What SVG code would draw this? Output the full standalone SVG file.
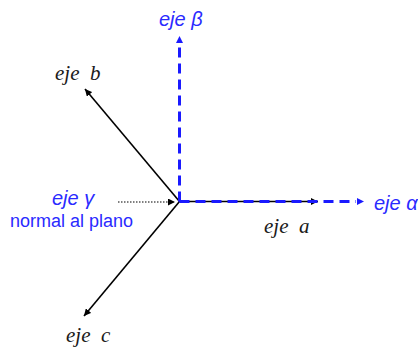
<svg xmlns="http://www.w3.org/2000/svg" width="418" height="347" viewBox="0 0 418 347">
<defs>
<marker id="ak" viewBox="0 0 10 10" refX="10" refY="5" markerWidth="7" markerHeight="7" orient="auto" markerUnits="userSpaceOnUse">
<path d="M0,0 L10,5 L0,10 Z" fill="#000"/>
</marker>
<marker id="ab" viewBox="0 0 10 10" refX="10" refY="5" markerWidth="7" markerHeight="7" orient="auto" markerUnits="userSpaceOnUse">
<path d="M0,0 L10,5 L0,10 Z" fill="#1a1aff"/>
</marker>
<marker id="ad" viewBox="0 0 10 10" refX="10" refY="5" markerWidth="7" markerHeight="7" orient="auto" markerUnits="userSpaceOnUse">
<path d="M0,0 L10,5 L0,10 Z" fill="#000"/>
</marker>
</defs>
<style>
.blk{stroke:#000;stroke-width:1.6;fill:none}
.dash{stroke:#1a1aff;stroke-width:3;fill:none;stroke-dasharray:10,6}
.lb{font-family:"Liberation Sans",Arial,sans-serif;font-style:italic;font-size:20px;fill:#2a2aff}
.ls{font-family:"Liberation Serif","DejaVu Serif",serif;font-style:italic;font-size:21px;fill:#1a1a1a}
.np{font-family:"Liberation Sans",Arial,sans-serif;font-size:18px;fill:#2a2aff}
</style>
<g id="connectors">
<line class="blk" x1="179.5" y1="201.5" x2="85" y2="89" marker-end="url(#ak)"/>
<line class="blk" x1="179.5" y1="201.5" x2="84" y2="316" marker-end="url(#ak)"/>
<line class="blk" x1="179.5" y1="201.5" x2="318" y2="201.5" marker-end="url(#ak)"/>
<line x1="118" y1="202" x2="175" y2="202" stroke="#000" stroke-width="1.2" stroke-dasharray="1.5,1.5" marker-end="url(#ad)"/>
<path class="dash" d="M179.5,201.5 L179.5,44"/>
<line x1="179.5" y1="46" x2="179.5" y2="36" stroke="none" marker-end="url(#ab)"/>
<path class="dash" d="M179.5,201.5 L356,201.5"/>
<line x1="356" y1="201.5" x2="364" y2="201.5" stroke="none" marker-end="url(#ab)"/>
</g>
<g id="beta"><text class="lb" x="159" y="26">eje β</text></g>
<g id="alpha"><text class="lb" x="374" y="210">eje α</text></g>
<g id="gamma"><text class="lb" x="52" y="205">eje γ</text>
<text class="np" x="10" y="227">normal al plano</text></g>
<g id="b"><text class="ls" x="55" y="80" xml:space="preserve">eje  b</text></g>
<g id="a"><text class="ls" x="264" y="233" xml:space="preserve">eje  a</text></g>
<g id="c"><text class="ls" x="66" y="342" xml:space="preserve">eje  c</text></g>
</svg>
